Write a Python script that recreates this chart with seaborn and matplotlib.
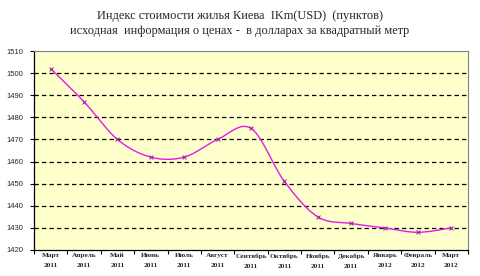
import numpy as np
import pandas as pd
import matplotlib
matplotlib.use("Agg")
import matplotlib.pyplot as plt
import seaborn as sns

months = ["Март", "Апрель", "Май", "Июнь", "Июль", "Август", "Сентябрь",
          "Октябрь", "Ноябрь", "Декабрь", "Январь", "Февраль", "Март"]
years = ["2011"] * 10 + ["2012"] * 3
values = [1502, 1487, 1470, 1462, 1462, 1470, 1475, 1451, 1435, 1432, 1430, 1428, 1430]
yticks = [1420, 1430, 1440, 1450, 1460, 1470, 1480, 1490, 1500, 1510]
title = "Индекс стоимости жилья Киева  IKm(USD)  (пунктов)\nисходная  информация о ценах -  в долларах за квадратный метр"

sns.set_theme(style="white")
plt.rcParams['font.family'] = ['Liberation Serif', 'DejaVu Serif']

df = pd.DataFrame({"x": np.arange(len(values)), "y": values})

# Excel-style smoothed line (Catmull-Rom through the data points)
def smooth(xs, ys, n=20):
    xs = np.asarray(xs, float); ys = np.asarray(ys, float)
    px = np.concatenate([[xs[0]], xs, [xs[-1]]])
    py = np.concatenate([[ys[0]], ys, [ys[-1]]])
    ox, oy = [], []
    for i in range(1, len(px) - 2):
        t = np.linspace(0, 1, n, endpoint=False)
        for P, out in ((px, ox), (py, oy)):
            p0, p1, p2, p3 = P[i-1], P[i], P[i+1], P[i+2]
            out.extend(0.5 * ((2*p1) + (-p0+p2)*t + (2*p0-5*p1+4*p2-p3)*t**2 + (-p0+3*p1-3*p2+p3)*t**3))
    ox.append(xs[-1]); oy.append(ys[-1])
    return pd.DataFrame({"x": ox, "y": oy})

sm = smooth(df["x"], df["y"])

fig = plt.figure(figsize=(4.8, 2.76), dpi=100)
ax = fig.add_axes([34/480, 1-250/276, (468-34)/480, (250-51)/276])
ax.set_facecolor("#FFFFCC")

for yv in yticks[1:-1]:
    ax.axhline(yv, color="black", lw=0.9, ls=(0, (3.5, 2.5)), zorder=1)

sns.lineplot(data=sm, x="x", y="y", ax=ax, color="#E619E6", lw=1.0, sort=False, zorder=3)
sns.scatterplot(data=df, x="x", y="y", ax=ax, marker="x", color="#9A1A9A", s=8, linewidth=0.7, zorder=4)

ax.set_xlim(-0.5, len(values) - 0.5)
ax.set_ylim(yticks[0], yticks[-1])
ax.set_yticks(yticks)
ax.set_yticklabels([str(v) for v in yticks], fontsize=5.5, family=["Liberation Sans"])
ax.set_xticks(np.arange(-0.5, len(values), 1.0))
ax.set_xticklabels([])
ax.set_xticks(np.arange(len(values)), minor=True)
ax.set_xticklabels([f"{m}\n{y}" for m, y in zip(months, years)], minor=True,
                   fontsize=5.2, fontweight="bold", linespacing=2.2)
ax.tick_params(axis="x", which="major", length=3, width=0.8, direction="out", color="black", bottom=True)
ax.tick_params(axis="x", which="minor", length=0, pad=2.5)
ax.tick_params(axis="y", length=3, width=0.8, direction="out", color="black", left=True, pad=5)
ax.set_xlabel(""); ax.set_ylabel("")
for s in ["left", "bottom"]:
    ax.spines[s].set_color("black"); ax.spines[s].set_linewidth(0.9)
for s in ["top", "right"]:
    ax.spines[s].set_color("#808080"); ax.spines[s].set_linewidth(0.8)

fig.text(0.5, 0.963, title, ha="center", va="top", fontsize=8.9, linespacing=1.3)

fig.savefig("out.png", dpi=100, facecolor="white")
